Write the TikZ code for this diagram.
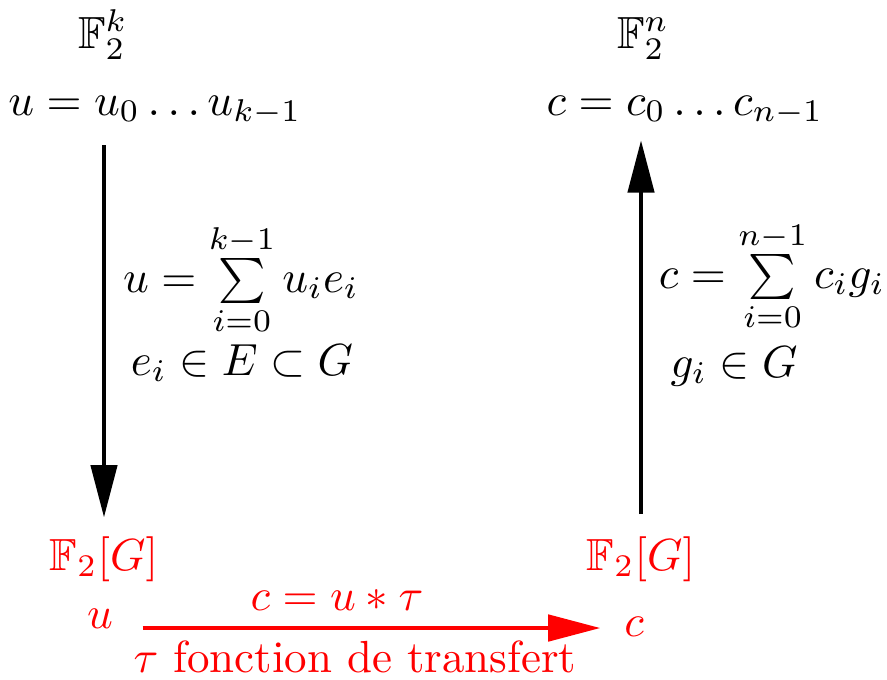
\documentclass[tikz,border=0pt]{standalone}
\usepackage{amsmath,amssymb,amsfonts}
\usepackage{xcolor}
\usepackage{tikz}
\usetikzlibrary{arrows.meta, calc}

\begin{document}
\begin{tikzpicture}[
    x=0.2222pt, y=-0.2222pt,
    lbl/.style={inner sep=0pt, anchor=base},
    red lbl/.style={lbl, text=red},
    flow/.style={draw=#1, line width=0.9pt, -{Triangle[length=11.6pt, width=5.8pt]}},
    flow/.default=black,
]
\useasboundingbox (0,0) rectangle (887,679);

% Spaces and words
\node[lbl] (Fk) at (103, 48) {$\mathbb{F}_2^k$};
\node[lbl] (Fn) at (643, 48) {$\mathbb{F}_2^n$};
\node[lbl] (uw) at (155, 115) {$u=u_0\ldots u_{k-1}$};
\node[lbl] (cw) at (685, 115) {$c=c_0\ldots c_{n-1}$};

% Encoding maps
\node[lbl] (sumu) at (241, 292) {$u=\sum\limits_{i=0}^{k-1}u_ie_i$};
\node[lbl] (eu) at (242, 375) {$e_i\in E\subset G$};
\node[lbl] (sumc) at (772, 288) {$c=\sum\limits_{i=0}^{n-1}c_ig_i$};
\node[lbl] (gc) at (734, 377) {$g_i\in G$};

% Group algebra
\node[red lbl] (Gl) at (104, 570) {$\mathbb{F}_2[G]$};
\node[red lbl] (Gr) at (641, 570) {$\mathbb{F}_2[G]$};
\node[red lbl] (uu) at (100, 628) {$u$};
\node[red lbl] (cc) at (634, 636) {$c$};
\node[red lbl] (conv) at (337, 610) {$c=u*\tau$};
\node[red lbl] (tf) at (355, 672) {$\tau$ fonction de transfert};

\draw[flow, shorten <=4.2pt, shorten >=4pt] (uw.south -| Gl.north) -- (Gl.north);
\draw[flow, shorten <=4.7pt, shorten >=3.1pt] (Gr.north) -- (cw.south -| Gr.north);
\draw[flow=red, line width=1pt, shorten <=6.4pt, shorten >=5.1pt] (uu.base east) -- (uu.base east -| cc.west);

\end{tikzpicture}
\end{document}
